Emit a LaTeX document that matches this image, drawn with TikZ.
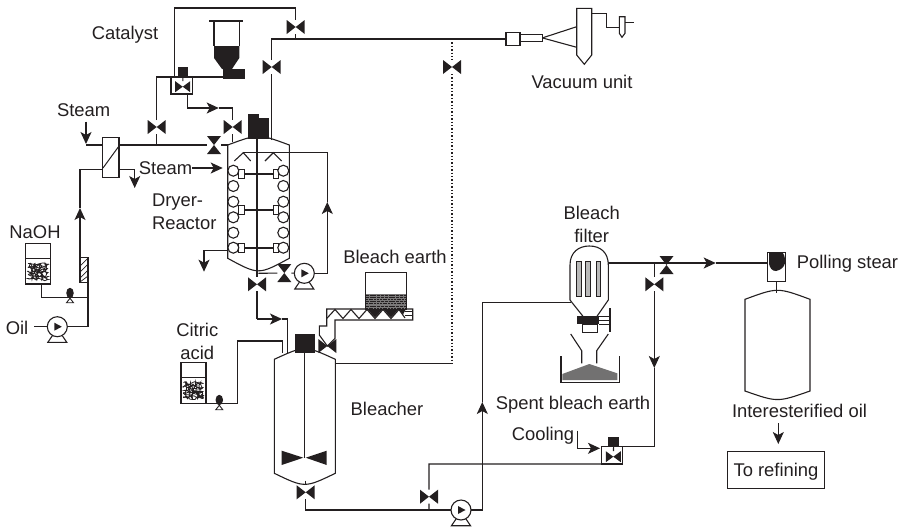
\documentclass[tikz,border=0pt]{standalone}
\usepackage{fontspec}
\setmainfont{Liberation Sans}
\usetikzlibrary{arrows.meta,shapes.geometric,decorations.pathmorphing}
\definecolor{ink}{HTML}{231F20}

\begin{document}
\begin{tikzpicture}[x=1pt, y=-1pt,
  pipe/.style={draw=ink, line width=1.1pt, line join=miter},
  flow/.style={pipe, -{Stealth[length=12pt,width=11pt,inset=3pt]}},
  hair/.style={draw=ink, line width=0.7pt},
  lbl/.style={font=\fontsize{18.4}{23}\selectfont, text=ink, inner sep=0pt, outer sep=0pt},
  hvalve/.style={inner sep=0pt, outer sep=0pt, minimum width=18pt, minimum height=14pt,
    path picture={\fill[ink] (path picture bounding box.north west) -- (path picture bounding box.south east) -- (path picture bounding box.north east) -- (path picture bounding box.south west) -- cycle;}},
  vvalve/.style={inner sep=0pt, outer sep=0pt, minimum width=14pt, minimum height=18pt,
    path picture={\fill[ink] (path picture bounding box.north west) -- (path picture bounding box.north east) -- (path picture bounding box.south west) -- (path picture bounding box.south east) -- cycle;}},
  ctrlvalve/.style={hvalve, minimum width=15pt, minimum height=11pt},
  box/.style={draw=ink, line width=1.1pt, inner sep=0pt, outer sep=0pt},
  block/.style={fill=ink, inner sep=0pt, outer sep=0pt},
  coil/.style={circle, draw=ink, line width=1.1pt, fill=white, inner sep=0pt, outer sep=0pt, minimum size=11pt},
  pump/.style={circle, draw=ink, line width=1.1pt, inner sep=0pt, outer sep=0pt, minimum size=20pt,
    path picture={\fill[ink] ([shift={(-3,-4)}]path picture bounding box.center) -- ([shift={(4.5,0)}]path picture bounding box.center) -- ([shift={(-3,4)}]path picture bounding box.center) -- cycle;}},
  dosepump/.style={ellipse, fill=ink, inner sep=0pt, outer sep=0pt, minimum width=7.5pt, minimum height=10.5pt},
  mess/.pic={\draw[draw=ink, line width=0.8pt, rounded corners=0.5pt, decorate, decoration={random steps, segment length=2pt, amplitude=1.6pt}]
    (-10,-8) -- (10,-7) -- (-10,-4) -- (10,-3) -- (-10,0) -- (10,1) -- (-10,3) -- (10,5) -- (-10,7) -- (10,8) -- (-8,-8) -- (-6,8) -- (-3,-8) -- (-1,8) -- (2,-8) -- (4,8) -- (7,-8) -- (9,8);}
  ]
\useasboundingbox (0,0) rectangle (907,528);
\pgfmathsetseed{11}

\node[hvalve] (vtop) at (295.7,27) {};
\node[hvalve] (vvac) at (271.7,67) {};
\node[hvalve] (vdot) at (452,67) {};
\node[hvalve] (vcatl) at (156.7,127) {};
\node[hvalve] (vcatr) at (232.7,127) {};
\node[vvalve] (vsteam) at (214,145) {};
\node[hvalve] (vdry) at (257,284.3) {};
\node[vvalve] (vrec) at (284.3,273) {};
\node[hvalve] (vearth) at (327.3,346) {};
\node[hvalve] (vbleach) at (305.7,492.3) {};
\node[hvalve] (vbypass) at (429,496.7) {};
\node[vvalve] (vpol) at (666.5,265) {};
\node[hvalve] (vfilt) at (654.3,284.3) {};

\node[box, minimum width=21.7pt, minimum height=17.3pt] (catbox) at (181.85,85.3) {};
\node[ctrlvalve] (vcat) at (182.7,86.7) {};
\node[block, minimum width=10pt, minimum height=9.5pt] (catact) at (183,72.2) {};
\node[box, minimum width=21pt, minimum height=17.3pt] (coolbox) at (612.2,455.3) {};
\node[ctrlvalve] (vcool) at (613.3,456.7) {};
\node[block, minimum width=10.7pt, minimum height=9.4pt] (coolact) at (613.7,442) {};
\draw[pipe] (catact) -- (vcat);
\draw[pipe] (coolact) -- (vcool);

\node[block, minimum width=22pt, minimum height=10pt] (catblock) at (234,74) {};
\fill[ink] (214,46) -- (239.3,46) -- (239.3,58) -- (232,69) -- (222,69) -- (214,58) -- cycle;
\draw[pipe] (214,21) -- (214,46);
\draw[pipe] (239.3,21) -- (239.3,46);
\draw[draw=ink, line width=2pt] (209,21) -- (243.3,21);

\coordinate (catup) at (174.7,77);
\coordinate (topright) at (295.7,8);
\coordinate (vacjoin) at (295.7,39);
\coordinate (vacbend) at (271.7,39);
\coordinate (dryvac) at (271.7,140);
\coordinate (catleft) at (156.7,77);
\coordinate (steamjoin) at (156.7,145);
\coordinate (catout) at (187.3,94);
\coordinate (cattip) at (218.7,108);
\coordinate (catbend) at (232.7,108);
\coordinate (catin) at (232.7,142);
\draw[pipe] (catup) |- (topright) -- (vtop) -- (vacjoin);
\draw[pipe] (steamjoin) -- (vcatl) -- (catleft) -- (catblock.west |- catleft);
\draw[flow] (catout) |- (cattip);
\draw[pipe] (cattip) -- (catbend) -- (vcatr) -- (catin);

\node[box, minimum width=14pt, minimum height=12.7pt] (ejbox) at (513,39) {};
\node[box, minimum width=22.3pt, minimum height=7.7pt] (ejtube) at (531.2,37.9) {};
\draw[pipe] (dryvac) -- (vvac) -- (vacbend) -- (ejbox);
\coordinate (vacdot) at (452,39);
\coordinate (dotbot) at (452,363.3);
\coordinate (blright) at (335.5,363.3);
\draw[pipe, dash pattern=on 1.4pt off 2pt] (vacdot) -- (vdot) -- (dotbot);
\draw[pipe] (dotbot) -- (blright);
\draw[pipe] (ejtube.east) -- (576.7,26.7);
\draw[pipe] (ejtube.east) -- (576.7,47.3);
\draw[pipe] (576.7,8.3) -- (591.7,8.3) -- (591.7,55) -- (584.3,64.3) -- (576.7,55) -- cycle;
\draw[pipe] (591.7,13.3) -- (606.7,13.3) -- (606.7,27.3) -- (619.3,27.3);
\draw[pipe] (619.3,16.7) -- (625,16.7) -- (625,33.3) -- (622,37.3) -- (619.3,33.3) -- cycle;
\draw[pipe] (625,22.7) -- (634,22.7);

\node[box, minimum width=16.7pt, minimum height=40.4pt] (hx) at (110.65,157.5) {};
\draw[hair, line width=1pt] (103,168) -- (118.5,146.7);
\coordinate (steamsrc) at (86,121.7);
\coordinate (steamtip) at (86,144);
\coordinate (hxa) at (102.3,145);
\coordinate (hxb) at (119,145);
\coordinate (dryin) at (227.7,145);
\coordinate (hxc) at (119,169.3);
\coordinate (condtip) at (134.7,188);
\coordinate (hxd) at (102.3,169.3);
\coordinate (mixtip) at (80,208);
\draw[flow] (steamsrc) -- (steamtip);
\draw[pipe] (86,145) -- (hxa);
\draw[pipe] (hxb) -- (vsteam) -- (dryin);
\draw[flow] (hxc) -| (condtip);
\node[box, minimum width=8pt, minimum height=24.6pt] (mixer) at (84,270) {};
\draw[hair] (80,266) -- (88,258);
\draw[hair] (80,272) -- (88,264);
\draw[hair] (80,278) -- (88,270);
\draw[hair] (80,282) -- (88,276);
\draw[flow] (mixer.north west) -- (mixtip);
\draw[pipe] (mixtip) |- (hxd);

\node[box, minimum width=25.4pt, minimum height=40.7pt] (naoh) at (38,263.65) {};
\draw[pipe] (naoh.west |- 0,258.3) -- (naoh.east |- 0,258.3);
\pic at (38,271.5) {mess};
\node[pump] (oilpump) at (57.3,326.7) {};
\draw[pipe] ([shift={(-5,9)}]oilpump.center) -- ++(-4.5,6.7) -- ++(19,0) -- ++(-4.5,-6.7);
\coordinate (oilsrc) at (34.3,326.7);
\draw[pipe] (oilsrc) -- (oilpump);
\draw[pipe] (oilpump) -| (mixer.south east);
\coordinate (naohbot) at (41.3,284);
\coordinate (naohjoin) at (87.7,297.3);
\draw[pipe] (naohbot) |- (naohjoin);
\node[dosepump] (naohpump) at (70,293) {};
\draw[pipe, line width=0.9pt] (naohpump.south) -- ++(-3.5,4.5) -- ++(7,0) -- cycle;

\node[box, minimum width=6pt, minimum height=9.7pt] (bl1) at (241.3,174) {};
\node[box, minimum width=5pt, minimum height=9.7pt] (br1) at (275.8,174) {};
\node[box, minimum width=6pt, minimum height=9pt] (bl2) at (241.3,210) {};
\node[box, minimum width=5pt, minimum height=9pt] (br2) at (275.8,210) {};
\node[box, minimum width=6pt, minimum height=9.4pt] (bl3) at (241.3,248) {};
\node[box, minimum width=5pt, minimum height=9.4pt] (br3) at (275.8,248) {};
\draw[pipe] (bl1) -- (br1);
\draw[pipe] (bl2) -- (br2);
\draw[pipe] (bl3) -- (br3);
\node[coil] (cl1) at (233.3,170.7) {};
\node[coil] (cl2) at (233.3,186) {};
\node[coil] (cl3) at (233.3,201.7) {};
\node[coil] (cl4) at (233.3,217.3) {};
\node[coil] (cl5) at (233.3,232.7) {};
\node[coil] (cl6) at (233.3,247.7) {};
\node[coil] (cr1) at (283.3,170.7) {};
\node[coil] (cr2) at (283.3,186) {};
\node[coil] (cr3) at (283.3,201.7) {};
\node[coil] (cr4) at (283.3,217.3) {};
\node[coil] (cr5) at (283.3,232.7) {};
\node[coil] (cr6) at (283.3,247.7) {};

\node[block, minimum width=11.3pt, minimum height=25pt] (drym1) at (253.65,126.5) {};
\node[block, minimum width=10pt, minimum height=20.7pt] (drym2) at (264.3,128.65) {};
\draw[pipe] (227.7,145) .. controls (258.5,133.6) .. (289.3,145) -- (289.3,258.3) .. controls (258.5,275) .. (227.7,258.3) -- cycle;
\draw[pipe] (234.3,161) -- (243.3,152.7) -- (250.7,161);
\draw[pipe] (265,161) -- (273.3,152.7) -- (281.7,161);

\coordinate (dryshaft) at (257,139);
\coordinate (drybot) at (257,319);
\coordinate (bltip) at (282,319);
\coordinate (blin) at (287.7,353);
\draw[pipe] (dryshaft) -- (vdry) -- (drybot);
\draw[flow] (drybot) -- (bltip);
\draw[pipe] (bltip) -| (blin);

\node[pump] (recpump) at (304.3,273.3) {};
\draw[pipe] ([shift={(-5,9)}]recpump.center) -- ++(-4.5,6.7) -- ++(19,0) -- ++(-4.5,-6.7);
\coordinate (recin) at (258.3,273.3);
\coordinate (recbend) at (327.3,273.3);
\coordinate (rectip) at (327.3,202);
\coordinate (rectop) at (327.3,152.7);
\coordinate (spray) at (243.3,152.7);
\draw[pipe] (recin) -- (vrec) -- (recpump);
\draw[flow] (recpump) -- (recbend) -- (rectip);
\draw[pipe] (rectip) -- (rectop) -- (spray);
\coordinate (drywall) at (228,250.7);
\coordinate (drytip) at (204,271.7);
\draw[flow] (drywall) -| (drytip);

\node[block, minimum width=20pt, minimum height=18.7pt] (blm) at (305,343.3) {};
\draw[pipe] (274.3,359.3) .. controls (304.8,345.3) .. (335.3,359.3) -- (335.3,473.3) .. controls (304.8,488) .. (274.3,473.3) -- cycle;
\coordinate (blshaft) at (304.3,352);
\coordinate (blimp) at (304.3,457.7);
\draw[pipe] (blshaft) -- (blimp);
\fill[ink] (281.7,450.7) -- (303.3,457.7) -- (281.7,465) -- cycle;
\fill[ink] (326.7,450.7) -- (305.7,457.7) -- (326.7,465) -- cycle;

\draw[pipe] (327.3,346) -- (319.3,335) -- (319.3,326) -- (326.7,326) -- (326.7,309) -- (412.7,309) -- (412.7,320) -- (335,320) -- (335,338.3) -- cycle;
\node[box, minimum width=40.6pt, minimum height=36.7pt] (earthbin) at (386,290.65) {};
\fill[ink!60] (365.7,294) rectangle (406.3,309);
\draw[hair, dash pattern=on 3pt off 0.8pt] (365.7,295) -- (406.3,295);
\draw[hair, dash pattern=on 3pt off 0.8pt] (365.7,297.2) -- (406.3,297.2);
\draw[hair, dash pattern=on 2pt off 0.8pt] (365.7,299.4) -- (406.3,299.4);
\draw[hair, dash pattern=on 3pt off 0.8pt] (365.7,301.6) -- (406.3,301.6);
\draw[hair, dash pattern=on 2pt off 0.8pt] (365.7,303.8) -- (406.3,303.8);
\draw[hair, dash pattern=on 3pt off 0.8pt] (365.7,306) -- (406.3,306);
\draw[hair, dash pattern=on 2pt off 0.8pt] (365.7,308) -- (406.3,308);
\draw[pipe] (326.7,318.5) -- (335,309.5) -- (343,318.5) -- (351,309.5) -- (359,318.5) -- (367,309.5) -- (375,318.5) -- (383,309.5) -- (391,318.5) -- (399,309.5) -- (405,318);
\fill[ink] (367,309) -- (375,317.5) -- (383,309) -- cycle;
\fill[ink] (383,309) -- (391,317.5) -- (399,309) -- cycle;
\fill[ink] (399,309) -- (403,314.5) -- (406,309) -- cycle;
\draw[hair] (405,311.5) -- (412.7,311.5);
\draw[hair] (405,315) -- (412.7,315);

\node[box, minimum width=25pt, minimum height=41pt] (citric) at (193.5,382.8) {};
\draw[pipe] (citric.west |- 0,377.3) -- (citric.east |- 0,377.3);
\pic at (193.5,390.5) {mess};
\coordinate (citbend) at (237.7,403.3);
\coordinate (cithigh) at (237.7,341);
\coordinate (citin) at (282.3,353);
\draw[pipe] (citric.south east) -- (citbend) |- (cithigh) -| (citin);
\node[dosepump] (citpump) at (219.3,400) {};
\draw[pipe, line width=0.9pt] (citpump.south) -- ++(-3.5,4.5) -- ++(7,0) -- cycle;

\coordinate (blbot) at (305.7,480.5);
\coordinate (botbend) at (305.7,510);
\coordinate (bypjoin) at (429,510);
\coordinate (bypbend) at (429,464);
\coordinate (pumpout) at (482.3,510);
\coordinate (pumptip) at (482.3,402);
\coordinate (filtleft) at (571,302.3);
\node[pump] (mainpump) at (461,510) {};
\draw[pipe] ([shift={(-5,9)}]mainpump.center) -- ++(-4.5,6.7) -- ++(19,0) -- ++(-4.5,-6.7);
\draw[pipe] (blbot) -- (vbleach) -- (botbend) -- (mainpump);
\draw[pipe] (bypjoin) -- (vbypass) -- (bypbend) -- (coolbox.south west);
\draw[flow] (mainpump) -- (pumpout) -- (pumptip);
\draw[pipe] (pumptip) |- (filtleft);

\draw[pipe] (570,300) -- (570,265) .. controls (570,252) and (579,246) .. (589.3,246) .. controls (600,246) and (608.3,252) .. (608.3,265) -- (608.3,300) -- (596.7,316.7);
\draw[pipe] (570,300) -- (583.3,316.7);
\draw[hair, fill=gray!55] (576.7,261.7) rectangle (581,296);
\draw[hair, fill=gray!55] (585.7,261.7) rectangle (590.3,296);
\draw[hair, fill=gray!55] (596,261.7) rectangle (600.7,296);
\fill[ink] (577.3,316) rectangle (599.3,324.3);
\draw[pipe] (599.3,316.7) -- (610,316.7);
\draw[hair] (599.3,320.5) -- (610,320.5);
\draw[pipe] (599.3,324.3) -- (610,324.3);
\draw[pipe] (610,308.3) -- (610,331.7);
\draw[pipe] (582.7,324.3) rectangle (597.7,332.3);
\draw[pipe] (570.7,334) -- (581.7,350.7) -- (581.7,363.3);
\draw[pipe] (608.3,334) -- (596.7,350.7) -- (596.7,363.3);
\fill[gray!85!ink] (562.3,380) -- (562.3,374) -- (589.3,364) -- (617.3,373.3) -- (617.3,380) -- cycle;
\draw[pipe] (561,356) -- (561,382.3) -- (619.3,382.3) -- (619.3,356);

\coordinate (filtright) at (608.3,263);
\coordinate (filtjoin) at (654.3,263);
\coordinate (coldtip) at (654.3,368);
\coordinate (poltip) at (715.7,263);
\coordinate (polin) at (767.7,263);
\draw[flow] (filtright) -- (poltip);
\draw[pipe] (poltip) -- (polin);
\draw[flow] (filtjoin) -- (vfilt) -- (coldtip);
\draw[pipe] (coldtip) |- (coolbox.north east);

\node[box, minimum width=17.6pt, minimum height=29.4pt] (polbox) at (776.5,267) {};
\fill[ink] (769,253) -- (783,253) .. controls (787,260) and (786,269) .. (776,271) .. controls (772,271) and (770,268) .. (769,264) -- cycle;
\coordinate (tanktop) at (776.5,293.3);
\draw[pipe] (polbox) -- (tanktop);
\draw[pipe] (745,299.3) .. controls (777.5,287.3) .. (810,299.3) -- (810,391) .. controls (777.5,402.4) .. (745,391) -- cycle;

\coordinate (coolsrc) at (577.3,430.7);
\coordinate (cooltip) at (600,448.3);
\draw[flow] (coolsrc) |- (cooltip);

\node[lbl] (catlabel) at (125,35) {Catalyst};
\node[lbl] (steamlabel) at (83.7,110) {Steam};
\node[lbl] (steaminner) at (165.5,168) {Steam};
\coordinate (coiltip) at (222.7,168);
\draw[flow] (steaminner) -- (coiltip);
\node[lbl, anchor=west, align=left] (dryer) at (152,212) {Dryer-\\Reactor};
\node[lbl] (naohlabel) at (35,232) {NaOH};
\node[lbl] (oillabel) at (17,328) {Oil};
\node[lbl, align=center] (citlabel) at (197.3,341) {Citric\\acid};
\node[lbl] (earthlabel) at (395,257) {Bleach earth};
\node[lbl] (bleacher) at (387,409) {Bleacher};
\node[lbl] (vaclabel) at (582,81.7) {Vacuum unit};
\node[lbl, align=center] (filterlabel) at (591.7,224) {Bleach\\filter};
\node[lbl] (spent) at (573,405) {Spent bleach earth};
\node[lbl] (cooling) at (543,436) {Cooling};
\node[lbl] (polling) at (847.5,264) {Polling stear};
\node[lbl] (intoil) at (799.5,411) {Interesterified oil};
\node[lbl, box, text height=13pt, text depth=0pt, minimum width=96.3pt, minimum height=37.7pt] (refining) at (776,470) {To refining};
\coordinate (intsrc) at (778.3,423.3);
\coordinate (inttip) at (778.3,444);
\draw[flow] (intsrc) -- (inttip);
\end{tikzpicture}
\end{document}
